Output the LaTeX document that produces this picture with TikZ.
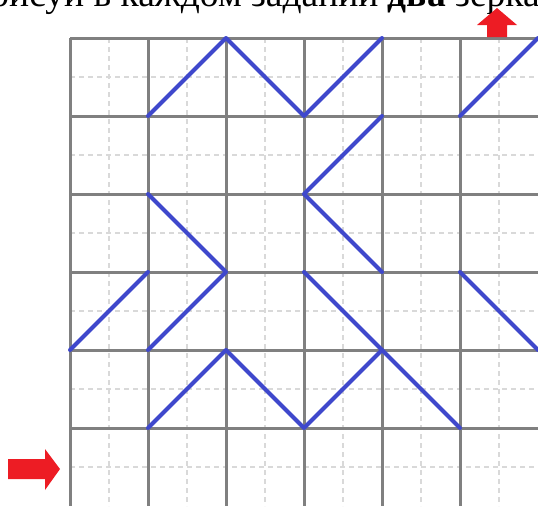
\documentclass[tikz,border=0pt]{standalone}
\usepackage{fontspec}
\setmainfont{Liberation Serif}
\definecolor{gridgray}{HTML}{808080}
\definecolor{dashgray}{HTML}{D9D9D9}
\definecolor{mirrorblue}{HTML}{3F48CC}
\definecolor{arrowred}{HTML}{ED1C24}
\tikzset{
  major/.style={draw=gridgray,line width=3pt},
  minor/.style={draw=dashgray,line width=2pt,dash pattern=on 5pt off 4pt},
  mirror/.style={draw=mirrorblue,line width=4pt,line cap=round,line join=round},
  redarrow/.style={fill=arrowred,draw=none}
}
\begin{document}
\begin{tikzpicture}[x=1pt,y=-1pt]
\useasboundingbox (0,0) rectangle (538,506);
% title (clipped by page)
\node[anchor=base west,inner sep=0pt,font=\fontsize{37.5}{44}\selectfont] (title) at (9,6) {\llap{Нар}исуй в каждом задании \textbf{два} зеркала};
% minor dashed grid
\foreach \i in {0,...,5} {
  \draw[minor] (109+78*\i,38) -- (109+78*\i,506);
  \draw[minor] (70,77+78*\i) -- (538,77+78*\i);
}
% major grid
\foreach \i in {0,...,5} {
  \draw[major] (70+78*\i,38) -- (70+78*\i,506);
  \draw[major] (70,38+78*\i) -- (538,38+78*\i);
}
% grid points
\foreach \c in {0,...,6} \foreach \r in {0,...,6} {
  \coordinate (p\c\r) at (70+78*\c,38+78*\r);
}
% mirrors
\draw[mirror] (p11) -- (p20) -- (p31) -- (p40);
\draw[mirror] (p51) -- (p60);
\draw[mirror] (p41) -- (p32) -- (p43);
\draw[mirror] (p12) -- (p23) -- (p14);
\draw[mirror] (p04) -- (p13);
\draw[mirror] (p33) -- (p44);
\draw[mirror] (p53) -- (p64);
\draw[mirror] (p15) -- (p24) -- (p35) -- (p44) -- (p55);
% arrows
\path[redarrow] (8,459) -- (45,459) -- (45,449) -- (60,469) -- (45,490) -- (45,479) -- (8,479) -- cycle;
\path[redarrow] (487,37) -- (487,25) -- (477,25) -- (497,8) -- (517,25) -- (507,25) -- (507,37) -- cycle;
\end{tikzpicture}
\end{document}
